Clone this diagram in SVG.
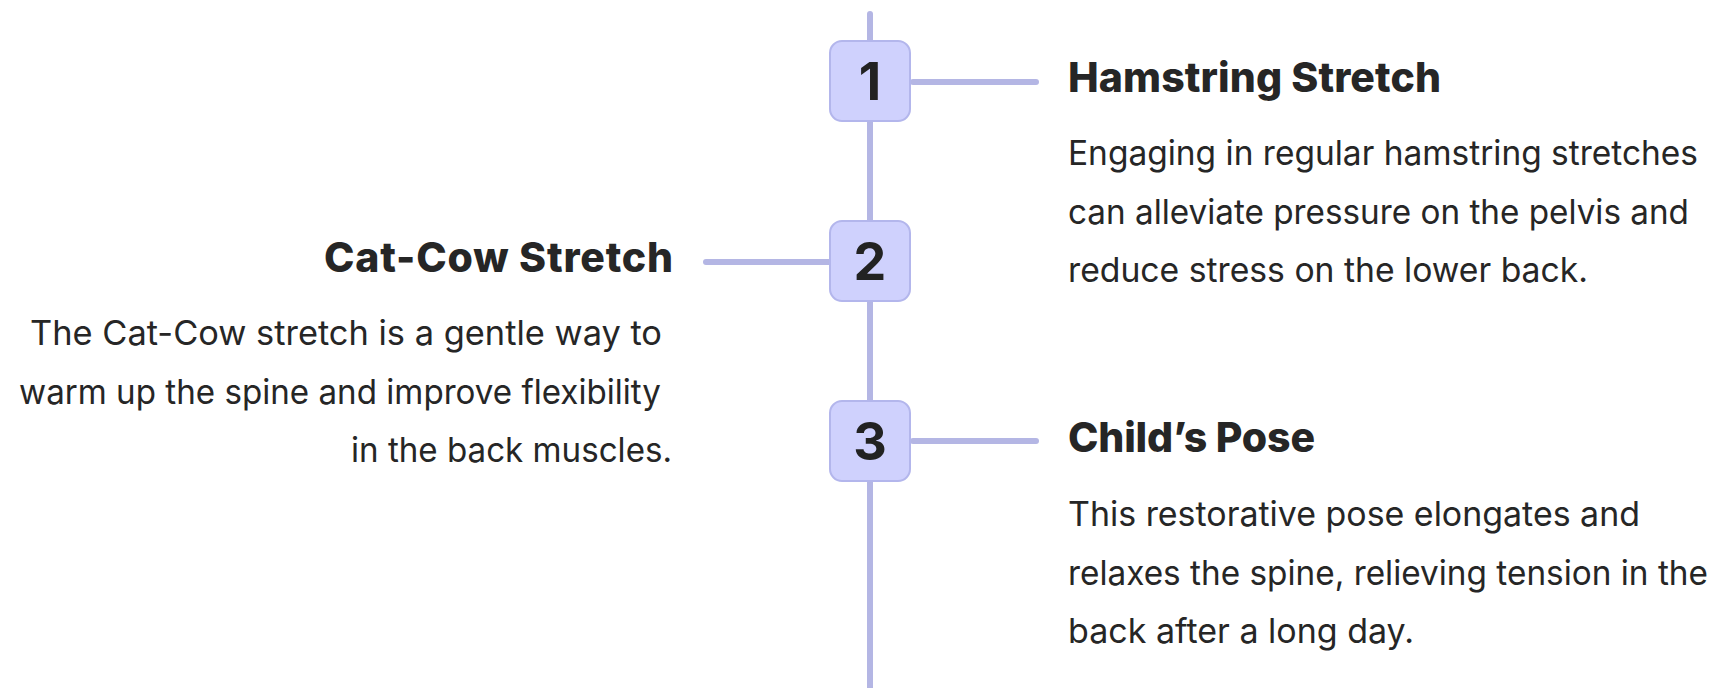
<svg xmlns="http://www.w3.org/2000/svg" width="1718" height="688" viewBox="0 0 1718 688">
<style>
.line{stroke:#b4b6e4;stroke-width:6;stroke-linecap:round;fill:none}
.box{fill:#cfd1fd;stroke:#b3b6ec;stroke-width:2}
.num{font-family:Inter,"Liberation Sans",sans-serif;font-weight:700;font-size:52px;fill:#222;text-anchor:middle}
.title{font-family:Inter,"Liberation Sans",sans-serif;font-weight:800;font-size:41px;fill:#262626;letter-spacing:-1px}
.body{font-family:Inter,"Liberation Sans",sans-serif;font-weight:400;font-size:34px;fill:#262626}
</style>
<rect width="1718" height="688" fill="#ffffff"/>
<g id="connectors">
<line class="line" x1="870" y1="14" x2="870" y2="700"/>
<line class="line" x1="913" y1="82" x2="1036" y2="82"/>
<line class="line" x1="706" y1="262" x2="829" y2="262"/>
<line class="line" x1="913" y1="441" x2="1036" y2="441"/>
</g>
<g id="step1">
<rect class="box" x="830" y="41" width="80" height="80" rx="12"/>
<text class="num" x="870" y="100">1</text>
<text class="title" x="1068" y="92" textLength="372" lengthAdjust="spacing">Hamstring Stretch</text>
<text class="body" x="1068" y="165" textLength="630" lengthAdjust="spacingAndGlyphs">Engaging in regular hamstring stretches</text>
<text class="body" x="1068" y="223.5" textLength="621" lengthAdjust="spacingAndGlyphs">can alleviate pressure on the pelvis and</text>
<text class="body" x="1068" y="282" textLength="520" lengthAdjust="spacingAndGlyphs">reduce stress on the lower back.</text>
</g>
<g id="step2">
<rect class="box" x="830" y="221" width="80" height="80" rx="12"/>
<text class="num" x="870" y="280">2</text>
<text class="title" x="324" y="272" textLength="348" lengthAdjust="spacing">Cat-Cow Stretch</text>
<text class="body" x="30" y="345" textLength="632" lengthAdjust="spacingAndGlyphs">The Cat-Cow stretch is a gentle way to</text>
<text class="body" x="19" y="403.5" textLength="642" lengthAdjust="spacingAndGlyphs">warm up the spine and improve flexibility</text>
<text class="body" x="351" y="462" textLength="321" lengthAdjust="spacingAndGlyphs">in the back muscles.</text>
</g>
<g id="step3">
<rect class="box" x="830" y="401" width="80" height="80" rx="12"/>
<text class="num" x="870" y="460">3</text>
<text class="title" x="1068" y="452" textLength="246" lengthAdjust="spacing">Child’s Pose</text>
<text class="body" x="1068" y="526" textLength="572" lengthAdjust="spacingAndGlyphs">This restorative pose elongates and</text>
<text class="body" x="1068" y="584.5" textLength="640" lengthAdjust="spacingAndGlyphs">relaxes the spine, relieving tension in the</text>
<text class="body" x="1068" y="643" textLength="346" lengthAdjust="spacingAndGlyphs">back after a long day.</text>
</g>
</svg>
